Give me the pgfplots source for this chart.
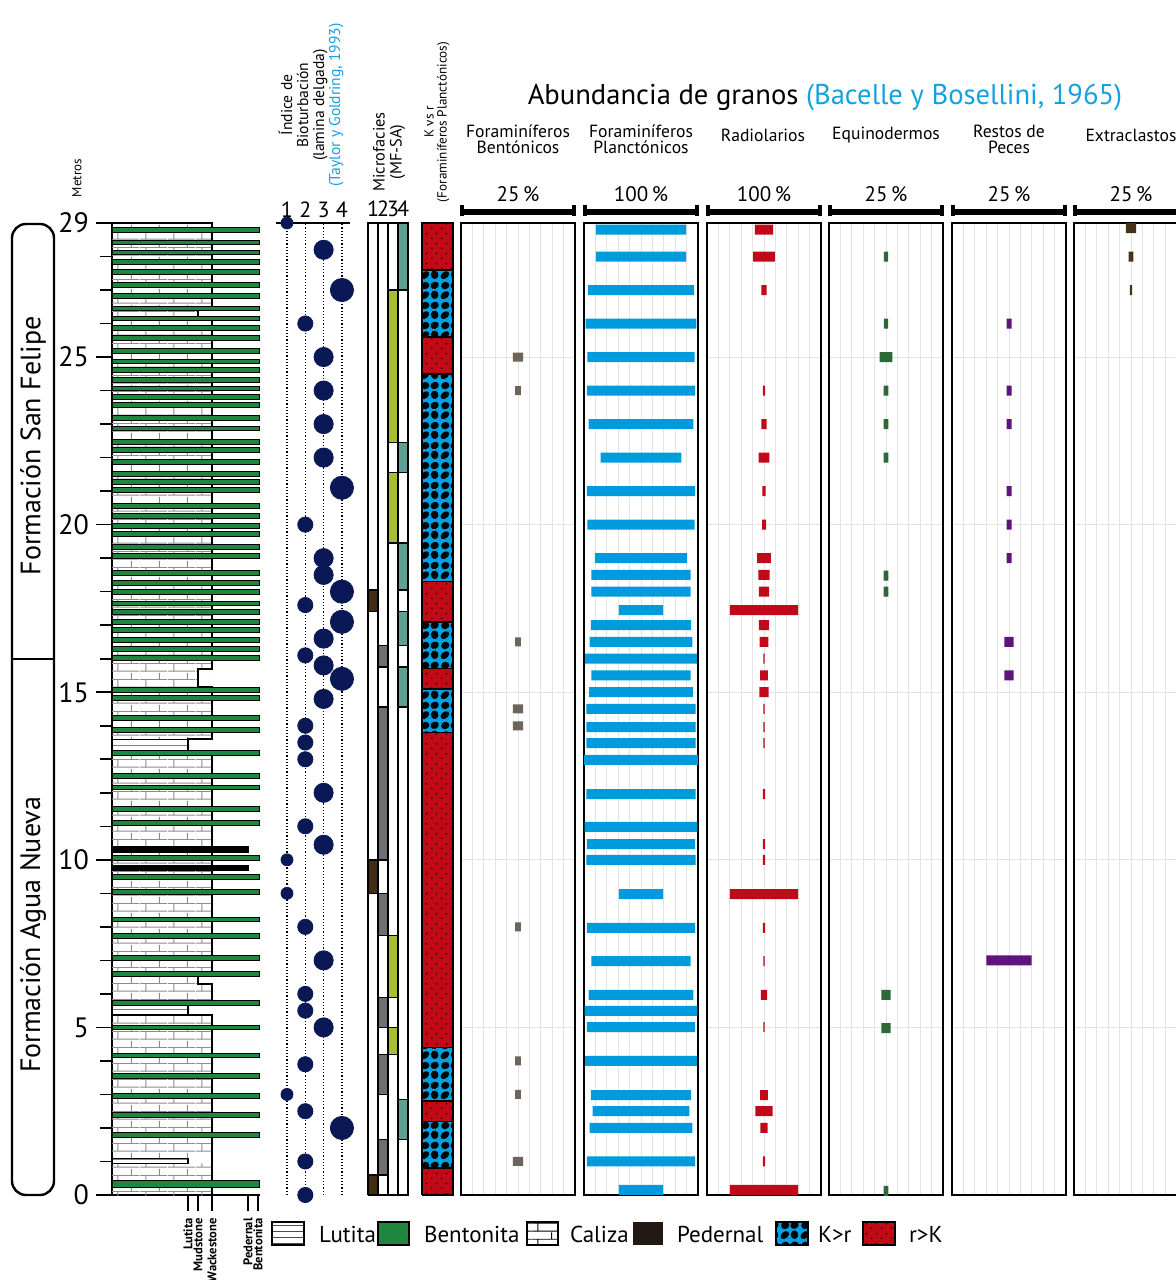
\documentclass[border=0pt]{standalone}
\usepackage{pgfplots}
\usepackage{pgfplotstable}
\pgfplotsset{compat=1.18}
\usepackage{fontspec}
\setmainfont{PT Sans}
\usetikzlibrary{patterns}

\definecolor{bent}{RGB}{30,135,62}
\definecolor{navy}{RGB}{10,25,85}
\definecolor{kblue}{RGB}{0,160,225}
\definecolor{rred}{RGB}{192,10,22}
\definecolor{planc}{RGB}{0,155,220}
\definecolor{radio}{RGB}{192,10,25}
\definecolor{bento}{RGB}{110,100,90}
\definecolor{equi}{RGB}{45,105,55}
\definecolor{peces}{RGB}{95,20,125}
\definecolor{extra}{RGB}{70,50,20}
\definecolor{mfbrown}{RGB}{65,45,20}
\definecolor{mfgrey}{RGB}{110,110,115}
\definecolor{mfgreen}{RGB}{165,190,50}
\definecolor{mfteal}{RGB}{95,160,150}
\definecolor{cite}{RGB}{20,160,225}
\definecolor{chert}{RGB}{35,25,20}

\pgfdeclarepatternformonly{mybricks}{\pgfpointorigin}{\pgfqpoint{14pt}{8pt}}{\pgfqpoint{14pt}{8pt}}{%
  \pgfsetlinewidth{0.5pt}%
  \pgfpathmoveto{\pgfqpoint{0pt}{0.5pt}}\pgfpathlineto{\pgfqpoint{14pt}{0.5pt}}%
  \pgfpathmoveto{\pgfqpoint{0pt}{4.5pt}}\pgfpathlineto{\pgfqpoint{14pt}{4.5pt}}%
  \pgfpathmoveto{\pgfqpoint{3pt}{0.5pt}}\pgfpathlineto{\pgfqpoint{3pt}{4.5pt}}%
  \pgfpathmoveto{\pgfqpoint{10pt}{4.5pt}}\pgfpathlineto{\pgfqpoint{10pt}{8pt}}%
  \pgfusepath{stroke}}
\pgfdeclarepatternformonly{sparsedots}{\pgfqpoint{0pt}{0pt}}{\pgfqpoint{5pt}{5pt}}{\pgfqpoint{5pt}{5pt}}{%
  \pgfpathcircle{\pgfqpoint{1pt}{1pt}}{0.4pt}%
  \pgfpathcircle{\pgfqpoint{3.5pt}{3.4pt}}{0.4pt}%
  \pgfusepath{fill}}
\pgfdeclarepatternformonly{blobs}{\pgfqpoint{0pt}{0pt}}{\pgfqpoint{10pt}{10pt}}{\pgfqpoint{10pt}{10pt}}{%
  \pgfpathellipse{\pgfqpoint{2.5pt}{2.5pt}}{\pgfqpoint{2.2pt}{0.5pt}}{\pgfqpoint{0.3pt}{2.0pt}}%
  \pgfpathellipse{\pgfqpoint{7.5pt}{2.7pt}}{\pgfqpoint{1.9pt}{-0.3pt}}{\pgfqpoint{0.2pt}{2.2pt}}%
  \pgfpathellipse{\pgfqpoint{2.7pt}{7.5pt}}{\pgfqpoint{2.1pt}{0.2pt}}{\pgfqpoint{0pt}{1.9pt}}%
  \pgfpathellipse{\pgfqpoint{7.5pt}{7.6pt}}{\pgfqpoint{2.1pt}{0.6pt}}{\pgfqpoint{-0.4pt}{1.8pt}}%
  \pgfusepath{fill}}

\newcommand{\rect}[5]{\addplot[fill=#5, draw=black, line width=0.7pt] coordinates {(#1,#3) (#2,#3) (#2,#4) (#1,#4) (#1,#3)};}
\newcommand{\kblock}[2]{\addplot[fill=kblue, draw=none] coordinates {(0,#1) (1,#1) (1,#2) (0,#2) (0,#1)};
  \addplot[pattern=blobs, pattern color=black, draw=black, line width=0.7pt] coordinates {(0,#1) (1,#1) (1,#2) (0,#2) (0,#1)};}
\newcommand{\rblock}[2]{\addplot[fill=rred, draw=none] coordinates {(0,#1) (1,#1) (1,#2) (0,#2) (0,#1)};
  \addplot[pattern=sparsedots, pattern color=black, draw=black, line width=0.7pt] coordinates {(0,#1) (1,#1) (1,#2) (0,#2) (0,#1)};}

% grain abundance (full bar width, % of panel scale)
\pgfplotstableread{
y v
25 2.2
24 1.3
16.5 1.3
14.5 2.2
14.0 2.2
8.0 1.3
4.0 1.3
3.0 1.3
1.0 2.2
}\bentab
\pgfplotstableread{
y v
28.8 79
28.0 79
27.0 93
26.0 97
25.0 94
24.0 95
23.0 92
22.0 71
21.0 95
20.0 94
19.0 81
18.5 87
18.0 87
17.45 39
17.0 88
16.5 90
16.0 98
15.5 87
15.0 91
14.5 96
13.96 96
13.48 96
12.98 100
11.96 96
10.98 99
10.47 95
10.0 96
8.98 39
7.97 95
6.98 87
5.97 92
5.49 99
5.01 95
4.0 98
2.98 88
2.5 85
2.0 90
1.0 95
0.15 39
}\planctab
\pgfplotstableread{
y v
28.8 16
28.0 19
27.0 4.4
24.0 2
23.0 4.4
22.0 9.4
21.0 2.7
20.0 3.5
19.0 12
18.5 10
18.0 9
17.45 60
17.0 9
16.5 7.5
16.0 1.2
15.5 7
15.0 8
14.5 1.2
13.96 1.2
13.48 1.2
11.96 2
10.47 2
10.0 2
8.98 60
7.97 2
6.98 1.2
5.97 5.3
5.01 1.2
2.98 7
2.5 15
2.0 6.5
1.0 2
0.15 60
}\radiotab
\pgfplotstableread{
y v
28.0 0.95
26.0 0.95
25.0 2.8
24.0 1.0
23.0 1.0
22.0 1.0
18.48 1.0
18.0 1.0
5.97 2.0
4.98 2.0
0.12 1.0
}\equitab
\pgfplotstableread{
y v
26.0 1.1
24.0 1.1
23.0 1.1
21.0 1.1
20.0 1.1
19.0 1.1
16.5 2.0
15.5 2.0
7.0 9.9
}\pecestab
\pgfplotstableread{
y v
28.85 2.2
28.0 1.0
27.0 0.5
}\extratab

\pgfplotsset{grain/.style={anchor=south west, scale only axis, width=57pt, height=486pt,
  ymin=0, ymax=29, axis line style={line width=1pt}, ytick={5,10,15,20,25}, yticklabels={},
  xticklabels={}, major tick length=0pt, xmajorgrids, ymajorgrids,
  grid style={gray!22, line width=0.5pt}},
  g100/.style={xmin=-50, xmax=50, xtick={-40,-30,...,40}},
  g25/.style={xmin=-12.5, xmax=12.5, xtick={-10,-7.5,...,10}},
  hb/.style={xbar, bar shift=0pt, bar width=#1, draw=none}}

\begin{document}
\begin{tikzpicture}[x=0.5pt,y=0.5pt]
\useasboundingbox (0,0) rectangle (1176,1280);
\clip (0,0) rectangle (1176,1280);

% ---------------- Lithology column ----------------
\begin{axis}[at={(56pt,42.5pt)}, anchor=south west, scale only axis, width=74pt, height=486pt,
  xmin=0, xmax=148, ymin=0, ymax=29, clip=false,
  axis x line*=bottom, axis y line*=left, axis line style={-, line width=1pt},
  ytick={0,5,10,15,20,25,29}, minor ytick={0,...,29},
  tick align=outside, major tick length=8pt, minor tick length=6pt,
  tick style={line width=0.8pt, black},
  yticklabel style={font=\fontsize{14}{14}\selectfont},
  xtick={76,86,100,136,146}, xticklabels={Lutita,Mudstone,Wackestone,Pedernal,Bentonita},
  xticklabel style={rotate=90, anchor=east, font=\bfseries\fontsize{6.3}{7}\selectfont},
  /pgf/number format/assume math mode=true]
\addplot[pattern=mybricks, pattern color=gray!90, draw=none] coordinates {(0,0) (100,0) (100,29) (0,29) (0,0)};
% narrower beds
\addplot[fill=white, draw=none] coordinates {(86,26.2) (100,26.2) (100,26.4) (86,26.4) (86,26.2)};
\addplot[fill=white, draw=none] coordinates {(86,15.15) (100,15.15) (100,15.7) (86,15.7) (86,15.15)};
\addplot[fill=white, draw=none] coordinates {(76,13.2) (100,13.2) (100,13.6) (76,13.6) (76,13.2)};
\addplot[fill=white, draw=none] coordinates {(86,6.3) (100,6.3) (100,6.6) (86,6.6) (86,6.3)};
\addplot[fill=white, draw=none] coordinates {(76,5.37) (100,5.37) (100,5.67) (76,5.67) (76,5.37)};
\addplot[fill=white, draw=none] coordinates {(76,0.95) (100,0.95) (100,1.1) (76,1.1) (76,0.95)};
\addplot[fill=white, draw=none] coordinates {(0,13.2) (76,13.2) (76,13.6) (0,13.6) (0,13.2)};
\addplot[fill=white, draw=none] coordinates {(0,5.37) (76,5.37) (76,5.67) (0,5.67) (0,5.37)};
\addplot[fill=white, draw=none] coordinates {(0,0.95) (76,0.95) (76,1.1) (0,1.1) (0,0.95)};
\addplot[pattern=horizontal lines, pattern color=gray, draw=black, line width=0.6pt] coordinates {(0,13.2) (76,13.2) (76,13.6) (0,13.6) (0,13.2)};
\addplot[pattern=horizontal lines, pattern color=gray, draw=black, line width=0.6pt] coordinates {(0,5.37) (76,5.37) (76,5.67) (0,5.67) (0,5.37)};
\addplot[pattern=horizontal lines, pattern color=gray, draw=black, line width=0.6pt] coordinates {(0,0.95) (76,0.95) (76,1.1) (0,1.1) (0,0.95)};
\addplot[draw=black, line width=1pt] coordinates {(100,0) (100,5.37) (76,5.37) (76,5.67) (100,5.67) (100,6.3) (86,6.3) (86,6.6) (100,6.6) (100,13.2) (76,13.2) (76,13.6) (100,13.6) (100,15.15) (86,15.15) (86,15.7) (100,15.7) (100,26.2) (86,26.2) (86,26.4) (100,26.4) (100,29) (0,29)};
% bentonite beds
\addplot[hb=2.4pt, fill=bent, draw=black, line width=0.5pt] coordinates {
(147,28.79) (147,28.42) (147,28.12) (147,27.83) (147,27.53) (147,27.15) (147,26.82) (147,26.45)
(147,26.15) (147,25.86) (147,25.56) (147,25.18) (147,24.87) (147,24.61) (147,24.31) (147,24.06)
(147,23.80) (147,23.57) (147,23.19) (147,22.87) (147,22.47) (147,22.23) (147,21.86) (147,21.50)
(147,21.28) (147,21.03) (147,20.55) (147,20.26) (147,19.96) (147,19.72) (147,19.34) (147,19.07)
(147,18.55) (147,18.25) (147,18.00) (147,17.65) (147,17.40) (147,17.10) (147,16.86) (147,16.56)
(147,16.28) (147,16.03) (147,15.07) (147,14.84) (147,14.22) (147,13.87) (147,13.18)
(147,12.51) (147,12.16) (147,11.51) (147,11.09) (147,10.06) (147,9.48) (147,9.05) (147,8.22)
(147,7.73) (147,7.08) (147,6.59) (147,5.72) (147,5.00) (147,4.16) (147,3.56) (147,2.96)
(147,2.38) (147,1.78)};
\addplot[hb=3.8pt, fill=bent, draw=black, line width=0.5pt] coordinates {(147,0.33)};
% chert beds
\addplot[hb=2.8pt, fill=black, draw=black] coordinates {(136,10.31) (136,9.76)};
\end{axis}

% ---------------- Bioturbation index ----------------
\begin{axis}[at={(138pt,42.5pt)}, anchor=south west, scale only axis, width=37pt, height=486pt,
  xmin=0.4, xmax=4.44, ymin=0, ymax=29, clip=false,
  axis x line*=top, hide y axis, axis line style={-, line width=0.9pt},
  xtick={1,2,3,4}, xtick style={draw=none},
  xticklabel style={font=\fontsize{11}{11}\selectfont, yshift=-1pt},
  /pgf/number format/assume math mode=true]
\addplot[densely dotted, line width=0.6pt] coordinates {(1,0) (1,29)};
\addplot[densely dotted, line width=0.6pt] coordinates {(2,0) (2,29)};
\addplot[densely dotted, line width=0.6pt] coordinates {(3,0) (3,29)};
\addplot[densely dotted, line width=0.6pt] coordinates {(4,0) (4,29)};
\addplot[only marks, mark=*, mark size=3pt, color=navy] coordinates {(1,29) (1,10) (1,9) (1,3)};
\addplot[only marks, mark=*, mark size=3.8pt, color=navy] coordinates {(2,26) (2,20) (2,17.6) (2,16.1) (2,14) (2,13.5) (2,13) (2,11) (2,8) (2,6) (2,5.5) (2,3.9) (2,2.5) (2,1) (2,0)};
\addplot[only marks, mark=*, mark size=4.8pt, color=navy] coordinates {(3,28.2) (3,25) (3,24) (3,23) (3,22) (3,19) (3,18.5) (3,16.6) (3,15.8) (3,14.8) (3,12) (3,10.45) (3,7) (3,5)};
\addplot[only marks, mark=*, mark size=5.8pt, color=navy] coordinates {(4,27) (4,21.1) (4,18) (4,17.1) (4,15.4) (4,2)};
\end{axis}

% ---------------- Microfacies ----------------
\begin{axis}[at={(184pt,42.5pt)}, anchor=south west, scale only axis, width=20pt, height=486pt,
  xmin=0, xmax=4, ymin=0, ymax=29, clip=false,
  axis x line*=top, hide y axis, axis line style={draw=none},
  xtick={0.5,1.5,2.5,3.5}, xticklabels={1,2,3,4}, xtick style={draw=none},
  xticklabel style={font=\fontsize{11}{11}\selectfont, inner sep=0pt, yshift=3pt},
  /pgf/number format/assume math mode=true]
\rect{0}{1}{0}{29}{white}
\rect{1}{2}{0}{29}{white}
\rect{2}{3}{0}{29}{white}
\rect{3}{4}{0}{29}{white}
\rect{0}{1}{17.4}{18.05}{mfbrown}
\rect{0}{1}{9.0}{10.0}{mfbrown}
\rect{0}{1}{0}{0.6}{mfbrown}
\rect{1}{2}{15.75}{16.4}{mfgrey}
\rect{1}{2}{10.0}{14.56}{mfgrey}
\rect{1}{2}{7.75}{9.0}{mfgrey}
\rect{1}{2}{5.0}{5.9}{mfgrey}
\rect{1}{2}{3.0}{4.2}{mfgrey}
\rect{1}{2}{0.6}{1.65}{mfgrey}
\rect{2}{3}{22.45}{27.0}{mfgreen}
\rect{2}{3}{19.45}{21.55}{mfgreen}
\rect{2}{3}{5.9}{7.75}{mfgreen}
\rect{2}{3}{4.2}{5.0}{mfgreen}
\rect{3}{4}{27.0}{29}{mfteal}
\rect{3}{4}{21.55}{22.45}{mfteal}
\rect{3}{4}{18.05}{19.45}{mfteal}
\rect{3}{4}{16.4}{17.4}{mfteal}
\rect{3}{4}{14.56}{15.75}{mfteal}
\rect{3}{4}{1.65}{2.85}{mfteal}
\end{axis}

% ---------------- K vs r ----------------
\begin{axis}[at={(211pt,42.5pt)}, anchor=south west, scale only axis, width=15.5pt, height=486pt,
  xmin=0, xmax=1, ymin=0, ymax=29, clip=false, hide axis]
\rblock{27.6}{29}
\kblock{25.6}{27.6}
\rblock{24.5}{25.6}
\kblock{18.3}{24.5}
\rblock{17.1}{18.3}
\kblock{15.7}{17.1}
\rblock{15.1}{15.7}
\kblock{13.8}{15.1}
\rblock{4.4}{13.8}
\kblock{2.8}{4.4}
\rblock{2.2}{2.8}
\kblock{0.8}{2.2}
\rblock{0}{0.8}
\addplot[draw=black, line width=1pt] coordinates {(0,0) (1,0) (1,29) (0,29) (0,0)};
\end{axis}

% ---------------- Grain abundance panels ----------------
\begin{axis}[grain, g25, at={(230.5pt,42.5pt)}]
\addplot[hb=4.5pt, fill=bento] table[x expr=\thisrow{v}/2, y=y] {\bentab};
\addplot[hb=4.5pt, fill=bento] table[x expr=-\thisrow{v}/2, y=y] {\bentab};
\end{axis}
\begin{axis}[grain, g100, at={(292pt,42.5pt)}]
\addplot[hb=5pt, fill=planc] table[x expr=\thisrow{v}/2, y=y] {\planctab};
\addplot[hb=5pt, fill=planc] table[x expr=-\thisrow{v}/2, y=y] {\planctab};
\end{axis}
\begin{axis}[grain, g100, at={(353.5pt,42.5pt)}]
\addplot[hb=5pt, fill=radio] table[x expr=\thisrow{v}/2, y=y] {\radiotab};
\addplot[hb=5pt, fill=radio] table[x expr=-\thisrow{v}/2, y=y] {\radiotab};
\end{axis}
\begin{axis}[grain, g25, at={(414.5pt,42.5pt)}]
\addplot[hb=5pt, fill=equi] table[x expr=\thisrow{v}/2, y=y] {\equitab};
\addplot[hb=5pt, fill=equi] table[x expr=-\thisrow{v}/2, y=y] {\equitab};
\end{axis}
\begin{axis}[grain, g25, at={(476pt,42.5pt)}]
\addplot[hb=5pt, fill=peces] table[x expr=\thisrow{v}/2, y=y] {\pecestab};
\addplot[hb=5pt, fill=peces] table[x expr=-\thisrow{v}/2, y=y] {\pecestab};
\end{axis}
\begin{axis}[grain, g25, at={(537pt,42.5pt)}]
\addplot[hb=5pt, fill=extra] table[x expr=\thisrow{v}/2, y=y] {\extratab};
\addplot[hb=5pt, fill=extra] table[x expr=-\thisrow{v}/2, y=y] {\extratab};
\end{axis}

% scale bars, percent labels and headers
\foreach \L/\p in {461/25, 584/100, 707/100, 829/25, 952/25, 1074/25}{
  \draw[line width=2.6pt] (\L,1068) -- (\L+114,1068);
  \draw[line width=1.6pt] (\L+1,1064) -- (\L+1,1075);
  \draw[line width=1.6pt] (\L+113,1064) -- (\L+113,1075);
  \node[font=\fontsize{10.5}{10.5}\selectfont] at (\L+57,1086) {\p\,\%};
}
\node[align=center, font=\fontsize{8.8}{8}\selectfont] at (518,1141) {Foraminíferos\\Bentónicos};
\node[align=center, font=\fontsize{8.8}{8}\selectfont] at (641,1141) {Foraminíferos\\Planctónicos};
\node[font=\fontsize{8.8}{8}\selectfont] at (763,1145) {Radiolarios};
\node[font=\fontsize{8.8}{8}\selectfont] at (886,1145) {Equinodermos};
\node[align=center, font=\fontsize{8.8}{8}\selectfont] at (1009,1141) {Restos de\\Peces};
\node[font=\fontsize{8.8}{8}\selectfont] at (1131,1145) {Extraclastos};
\node[font=\fontsize{14.3}{15}\selectfont] at (825,1183) {Abundancia de granos \textcolor{cite}{(Bacelle y Bosellini, 1965)}};

% rotated column headers
\node[rotate=90, align=center, font=\fontsize{7.8}{8}\selectfont] at (311,1175) {Índice de\\Bioturbación\\(lamina delgada)\\\textcolor{cite}{(Taylor y Goldring, 1993)}};
\node[rotate=90, align=center, font=\fontsize{8.2}{8.5}\selectfont] at (389,1128) {Microfacies\\(MF-SA)};
\node[rotate=90, align=center, font=\fontsize{6.6}{6.5}\selectfont] at (437,1158) {K vs r\\(Foraminíferos Planctónicos)};
\node[rotate=90, font=\fontsize{6.5}{7}\selectfont] at (77,1102) {Metros};

% formations
\draw[line width=1.2pt, rounded corners=7pt] (12,85) rectangle (54,1056);
\draw[line width=1.2pt] (12,621) -- (54,621);
\node[rotate=90, font=\fontsize{14}{14}\selectfont] at (33,834) {Formación San Felipe};
\node[rotate=90, font=\fontsize{14}{14}\selectfont] at (33,345) {Formación Agua Nueva};

% legend
\draw[pattern=horizontal lines, pattern color=black!70, line width=0.6pt] (272,35) rectangle (304,58);
\node[anchor=base west, font=\fontsize{11.5}{11.5}\selectfont] at (312,37) {Lutita};
\fill[bent] (378,35) rectangle (409,58);
\draw[pattern=sparsedots, pattern color=black!60, line width=0.6pt] (378,35) rectangle (409,58);
\node[anchor=base west, font=\fontsize{11.5}{11.5}\selectfont] at (417,37) {Bentonita};
\draw[pattern=mybricks, pattern color=black, line width=0.6pt] (527,35) rectangle (558,58);
\node[anchor=base west, font=\fontsize{11.5}{11.5}\selectfont] at (563,37) {Caliza};
\fill[chert] (633,35) rectangle (663,58);
\node[anchor=base west, font=\fontsize{11.5}{11.5}\selectfont] at (670,37) {Pedernal};
\fill[kblue] (776,35) rectangle (808,58);
\draw[pattern=blobs, pattern color=black, line width=0.6pt] (776,35) rectangle (808,58);
\node[anchor=base west, font=\fontsize{11.5}{11.5}\selectfont] at (811,37) {K>r};
\fill[rred] (863,35) rectangle (895,58);
\draw[pattern=sparsedots, pattern color=black, line width=0.6pt] (863,35) rectangle (895,58);
\node[anchor=base west, font=\fontsize{11.5}{11.5}\selectfont] at (902,37) {r>K};
\end{tikzpicture}
\end{document}
